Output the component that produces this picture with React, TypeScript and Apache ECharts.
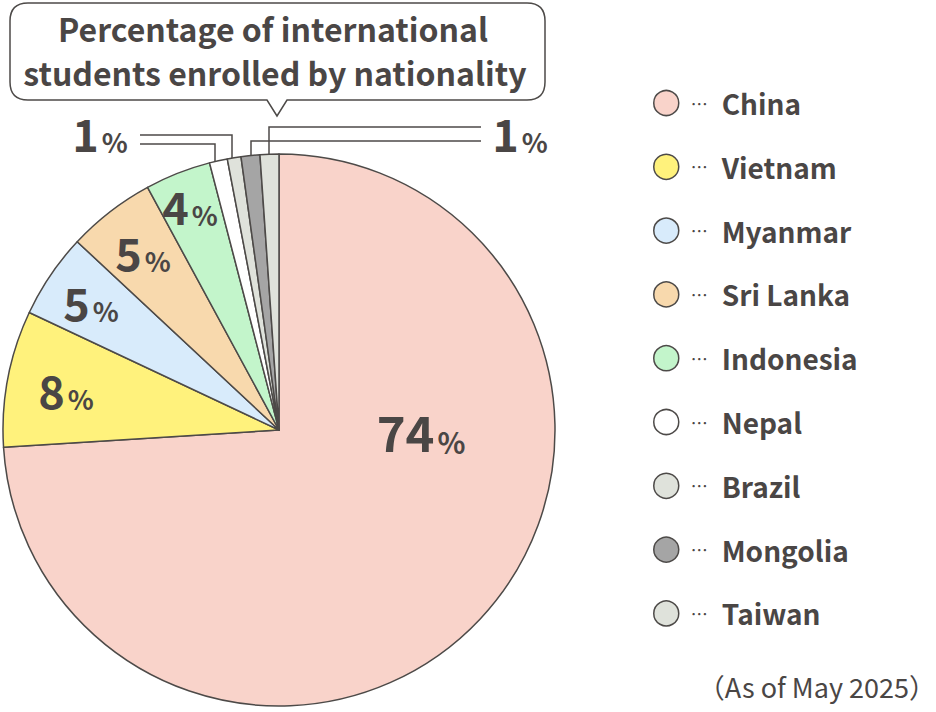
import React, { useEffect, useRef } from "react";
import * as echarts from "echarts";

const categories = ["China", "Vietnam", "Myanmar", "Sri Lanka", "Indonesia", "Nepal", "Brazil", "Mongolia", "Taiwan"];
const shares = [74.0, 8.0, 4.95, 5.15, 3.85, 1.05, 0.8, 1.1, 1.1];
const sliceColors = ["#f9d3ca", "#fff27c", "#d8ebfb", "#f8d9ad", "#c3f5cb", "#ffffff", "#dfe2db", "#a5a5a5", "#dfe2db"];
const titleLines = ["Percentage of international", "students enrolled by nationality"];
const footnote = "（As of May 2025）";

const INK = "#4a4645";
const LINE = "#4d4a48";
const FONT = "'Noto Sans CJK JP', 'Noto Sans', sans-serif";
const CX = 279;
const CY = 430;
const R = 276;
// label anchor offsets relative to pie centre (layout only)
const labelOffsets: Record<number, [number, number]> = {
  0: [142, 0],
  1: [-213, -41],
  2: [-188, -129],
  3: [-136, -179],
  4: [-89, -225],
};

export default function App() {
  const ref = useRef<HTMLDivElement>(null);
  useEffect(() => {
    document.body.style.margin = "0";
    if (!ref.current) return;
    echarts.graphic.registerShape(
      "bubble",
      echarts.graphic.extendPath(
        "M28 3 H527 Q545 3 545 21 V82 Q545 100 527 100 H287 L277 116 L267 100 H28 Q10 100 10 82 V21 Q10 3 28 3 Z",
        {}
      )
    );
    const chart = echarts.init(ref.current, null, { renderer: "svg" });
    const pct = (i: number) => Math.round(shares[i]);
    const smallRich = {
      n: { fontSize: 45, fontWeight: "bold", fill: INK, fontFamily: FONT, verticalAlign: "bottom", lineHeight: 46 },
      p: { fontSize: 27, fontWeight: "bold", fill: INK, fontFamily: FONT, verticalAlign: "bottom", lineHeight: 38, padding: [0, 0, 0, 3] },
    };
    const option: any = {
      animation: false,
      backgroundColor: "#ffffff",
      textStyle: { fontFamily: FONT },
      legend: {
        orient: "vertical",
        left: 648,
        top: 84,
        icon: "circle",
        itemWidth: 25,
        itemHeight: 25,
        itemGap: 35.8,
        selectedMode: false,
        itemStyle: { borderColor: LINE, borderWidth: 1.5 },
        data: categories,
        formatter: (name: string) => `{d|…}{n|${name}}`,
        textStyle: {
          fontFamily: FONT,
          rich: {
            d: { fontSize: 17, color: INK, padding: [0, 14, 0, 7], fontFamily: FONT },
            n: { fontSize: 28, fontWeight: "bold", color: INK, lineHeight: 33, fontFamily: FONT },
          },
        },
      },
      series: [
        {
          type: "pie",
          center: [CX, CY],
          radius: R,
          startAngle: 90,
          clockwise: true,
          silent: true,
          emphasis: { disabled: true },
          itemStyle: { borderColor: LINE, borderWidth: 1.5 },
          labelLine: { show: false },
          data: categories.map((c, i) => ({
            name: c,
            value: shares[i],
            itemStyle: { color: sliceColors[i] },
            label: { show: i < 5 },
          })),
          label: {
            position: "inside",
            fontFamily: FONT,
            formatter: (p: any) =>
              p.dataIndex === 0 ? `{N|${pct(0)}}{P|%}` : `{n|${pct(p.dataIndex)}}{p|%}`,
            rich: {
              N: { fontSize: 49, fontWeight: "bold", color: INK, fontFamily: FONT, verticalAlign: "bottom", lineHeight: 50 },
              P: { fontSize: 29, fontWeight: "bold", color: INK, fontFamily: FONT, verticalAlign: "bottom", lineHeight: 42, padding: [0, 0, 0, 3] },
              n: { fontSize: 45, fontWeight: "bold", color: INK, fontFamily: FONT, verticalAlign: "bottom", lineHeight: 46 },
              p: { fontSize: 27, fontWeight: "bold", color: INK, fontFamily: FONT, verticalAlign: "bottom", lineHeight: 38, padding: [0, 0, 0, 3] },
            },
          },
          labelLayout: (params: any) => {
            const off = labelOffsets[params.dataIndex];
            if (!off) return {};
            return { x: CX + off[0], y: CY + off[1], align: "center", verticalAlign: "middle" };
          },
        },
      ],
      graphic: [
        {
          type: "bubble",
          x: 0,
          y: 0,
          scaleX: 1,
          scaleY: 1,
          style: { fill: "#ffffff", stroke: LINE, lineWidth: 1.5 },
        },
        {
          type: "text",
          x: 273,
          y: 28,
          style: {
            text: titleLines[0],
            fill: INK,
            font: `bold 32px ${FONT}`,
            textAlign: "center",
            textVerticalAlign: "middle",
          },
        },
        {
          type: "text",
          x: 275,
          y: 72,
          style: {
            text: titleLines[1],
            fill: INK,
            font: `bold 32px ${FONT}`,
            textAlign: "center",
            textVerticalAlign: "middle",
          },
        },
        // left leader lines (Nepal, Brazil)
        { type: "polyline", shape: { points: [[140, 135], [232, 135], [232, 158]] }, style: { stroke: LINE, lineWidth: 1.5, fill: "none" } },
        { type: "polyline", shape: { points: [[140, 144], [215, 144], [215, 170]] }, style: { stroke: LINE, lineWidth: 1.5, fill: "none" } },
        // right leader lines (Taiwan, Mongolia)
        { type: "polyline", shape: { points: [[481, 127], [269, 127], [269, 162]] }, style: { stroke: LINE, lineWidth: 1.5, fill: "none" } },
        { type: "polyline", shape: { points: [[481, 141], [251, 141], [251, 162]] }, style: { stroke: LINE, lineWidth: 1.5, fill: "none" } },
        {
          type: "text",
          x: 100,
          y: 132,
          style: { text: `{n|${pct(5)}}{p|%}`, textAlign: "center", textVerticalAlign: "middle", rich: smallRich },
        },
        {
          type: "text",
          x: 520,
          y: 132,
          style: { text: `{n|${pct(8)}}{p|%}`, textAlign: "center", textVerticalAlign: "middle", rich: smallRich },
        },
        {
          type: "text",
          x: 936,
          y: 686,
          style: {
            text: footnote,
            fill: INK,
            font: `27px ${FONT}`,
            textAlign: "right",
            textVerticalAlign: "middle",
          },
        },
      ],
    };
    chart.setOption(option);
    return () => chart.dispose();
  }, []);
  return <div ref={ref} style={{ width: 936, height: 712 }} />;
}
